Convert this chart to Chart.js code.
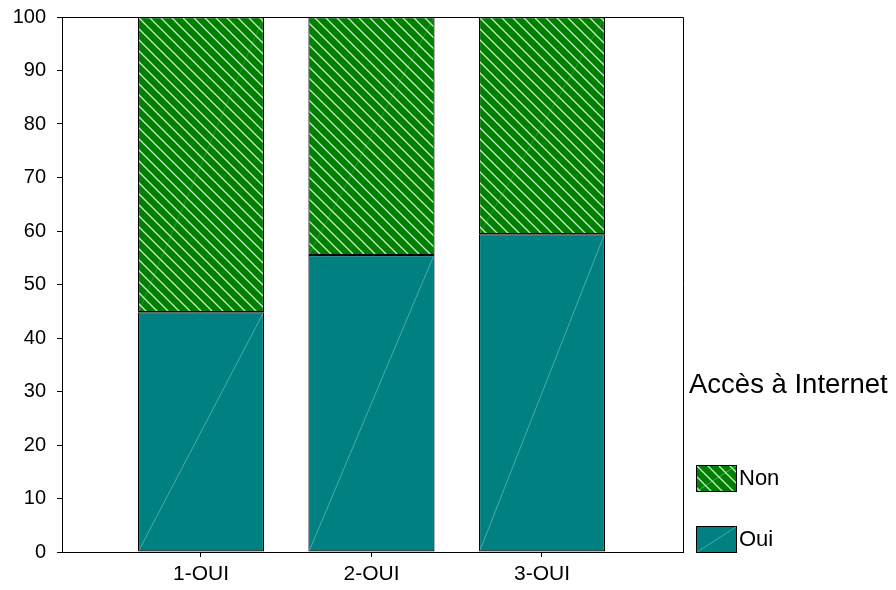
<!DOCTYPE html>
<html>
<head>
<meta charset="utf-8">
<script src="https://cdn.jsdelivr.net/npm/chart.js@4.4.1/dist/chart.umd.min.js"></script>
<style>
  html, body { margin: 0; padding: 0; background: #ffffff; }
  #wrap { width: 896px; height: 590px; position: relative; }
</style>
</head>
<body>
<div id="wrap"><canvas id="c" width="896" height="590"></canvas></div>
<script>
// ---- data ----
const categories = ['1-OUI', '2-OUI', '3-OUI'];
const ouiValues = [44.8, 55.5, 59.4];
const nonValues = [55.2, 44.5, 40.6];
const yTicks = [0, 10, 20, 30, 40, 50, 60, 70, 80, 90, 100];
const legendTitle = 'Accès à Internet';
const seriesNames = ['Oui', 'Non'];

const FONT = '"Liberation Sans", Arial, sans-serif';

// hatch pattern for "Non"
function makeHatch() {
  const s = 11;
  const cv = document.createElement('canvas');
  cv.width = s; cv.height = s;
  const g = cv.getContext('2d');
  g.fillStyle = '#008000';
  g.fillRect(0, 0, s, s);
  g.strokeStyle = 'rgba(215,240,215,0.95)';
  g.lineWidth = 1.3;
  g.beginPath();
  g.moveTo(-2, -2); g.lineTo(s + 2, s + 2);
  g.moveTo(-2, s - 2); g.lineTo(2, s + 2);
  g.moveTo(s - 2, -2); g.lineTo(s + 2, 2);
  g.stroke();
  return document.getElementById('c').getContext('2d').createPattern(cv, 'repeat');
}
const hatch = makeHatch();
const teal = '#008080';

const toPts = arr => arr.map((v, i) => ({ x: i + 1, y: v }));

// faint diagonal in each bar segment + frame + legend
const extras = {
  id: 'extras',
  afterDatasetsDraw(chart) {
    const ctx = chart.ctx;
    ctx.save();
    chart.data.datasets.forEach((ds, di) => {
      const meta = chart.getDatasetMeta(di);
      meta.data.forEach(el => {
        const p = el.getProps(['x', 'y', 'base', 'width'], true);
        const l = p.x - p.width / 2, r = p.x + p.width / 2;
        const top = Math.min(p.y, p.base), bot = Math.max(p.y, p.base);
        ctx.strokeStyle = di === 0 ? 'rgba(170,220,220,0.45)' : 'rgba(170,220,170,0.25)';
        ctx.lineWidth = 1;
        ctx.beginPath();
        ctx.moveTo(l + 1, bot - 1);
        ctx.lineTo(r - 1, top + 1);
        ctx.stroke();
      });
    });
    const a = chart.chartArea;
    ctx.strokeStyle = '#000';
    ctx.lineWidth = 1;
    ctx.beginPath();
    ctx.moveTo(a.left, a.top + 0.5);
    ctx.lineTo(a.right + 0.5, a.top + 0.5);
    ctx.lineTo(a.right + 0.5, a.bottom);
    ctx.stroke();
    ctx.restore();
  },
  afterDraw(chart) {
    const ctx = chart.ctx;
    ctx.save();
    ctx.fillStyle = '#000';
    ctx.textBaseline = 'middle';
    ctx.textAlign = 'left';
    ctx.font = '27.5px ' + FONT;
    ctx.fillText(legendTitle, 689, 385);
    const items = [
      { ds: chart.data.datasets[1], y: 465 },
      { ds: chart.data.datasets[0], y: 526 }
    ];
    ctx.font = '22px ' + FONT;
    items.forEach(it => {
      ctx.fillStyle = it.ds.backgroundColor;
      ctx.fillRect(696, it.y, 40, 26);
      ctx.strokeStyle = '#000';
      ctx.lineWidth = 1;
      ctx.strokeRect(696.5, it.y + 0.5, 40, 26);
      ctx.strokeStyle = 'rgba(170,220,220,0.45)';
      ctx.beginPath();
      ctx.moveTo(697, it.y + 26);
      ctx.lineTo(736, it.y + 1);
      ctx.stroke();
      ctx.fillStyle = '#000';
      ctx.fillText(it.ds.label, 739, it.y + 14);
    });
    ctx.restore();
  }
};

new Chart(document.getElementById('c'), {
  type: 'bar',
  data: {
    datasets: [
      { label: seriesNames[0], data: toPts(ouiValues), backgroundColor: teal,
        borderColor: '#000', borderWidth: 1.2, borderSkipped: false,
        barPercentage: 0.74, categoryPercentage: 1 },
      { label: seriesNames[1], data: toPts(nonValues), backgroundColor: hatch,
        borderColor: '#000', borderWidth: 1.2, borderSkipped: false,
        barPercentage: 0.74, categoryPercentage: 1 }
    ]
  },
  options: {
    responsive: false,
    animation: false,
    layout: { padding: { top: 17, right: 213, left: 0, bottom: 0 } },
    plugins: { legend: { display: false }, tooltip: { enabled: false } },
    scales: {
      x: {
        type: 'linear',
        stacked: true,
        offset: false,
        min: 0.185,
        max: 3.827,
        afterBuildTicks: s => { s.ticks = categories.map((c, i) => ({ value: i + 1 })); },
        afterFit: s => { s.height = 38; s.paddingLeft = 0; s.paddingRight = 0; },
        grid: { display: true, offset: false, drawOnChartArea: false, tickLength: 5, color: '#000' },
        border: { display: true, color: '#000', width: 1 },
        ticks: {
          autoSkip: false,
          maxRotation: 0,
          padding: 5,
          color: '#000',
          font: { family: FONT, size: 21 },
          callback: v => categories[v - 1]
        }
      },
      y: {
        stacked: true,
        min: 0,
        max: 100,
        afterBuildTicks: s => { s.ticks = yTicks.map(v => ({ value: v })); },
        afterFit: s => { s.width = 62; s.paddingTop = 0; s.paddingBottom = 0; },
        grid: { display: true, drawOnChartArea: false, tickLength: 5, color: '#000' },
        border: { display: true, color: '#000', width: 1 },
        ticks: {
          padding: 11,
          color: '#000',
          font: { family: FONT, size: 20 }
        }
      }
    }
  },
  plugins: [extras]
});
</script>
</body>
</html>
